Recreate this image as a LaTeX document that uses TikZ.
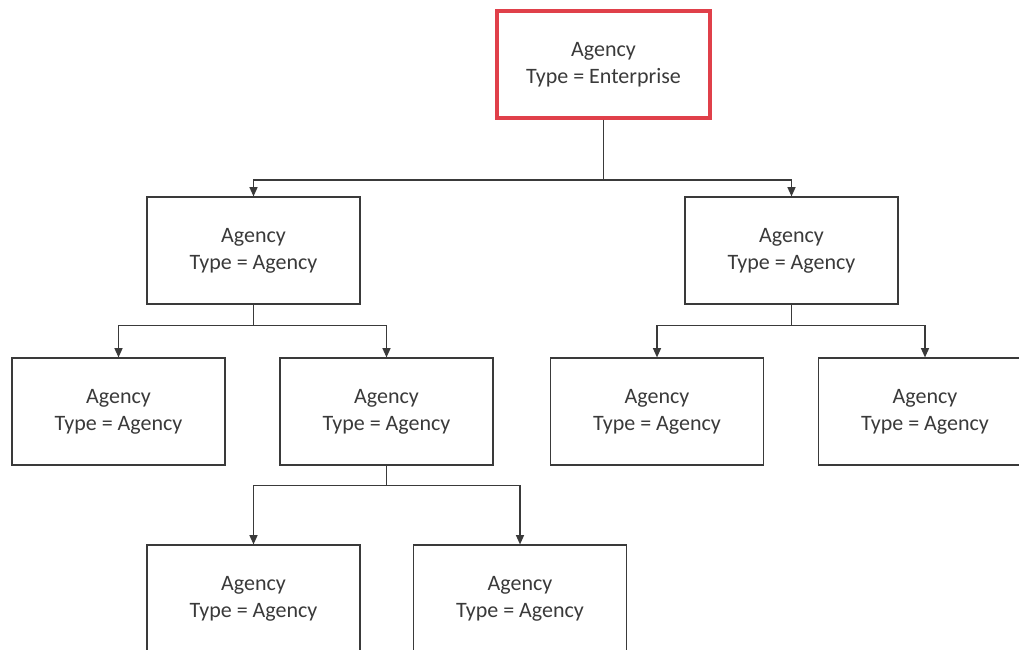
\documentclass[tikz,border=0pt]{standalone}
\usepackage{fontspec}
\setmainfont{Carlito}
\usepackage{tikz}
\usetikzlibrary{arrows.meta,positioning}
\definecolor{ink}{HTML}{3A3A3A}
\definecolor{alert}{HTML}{E0404A}

\begin{document}
\begin{tikzpicture}[x=0.75pt,y=-0.75pt]
    \tikzset{
      unit/.style={draw=ink,fill=white,line width=1.1pt,minimum width=160pt,minimum height=80pt,inner sep=0pt,align=center,text=ink,font=\fontsize{16.5}{20}\selectfont},
      root/.style={unit,draw=alert,line width=3pt},
      link/.style={-{Triangle[length=7pt,width=6pt]},draw=ink,line width=1.1pt}
    }
    \clip (0,0) rectangle (1019,649);
    \fill[white] (0,0) rectangle (1019,649);
    \node[root] (enterprise) at (603.5,64.5) {Agency\\Type = Enterprise};
    \node[unit] (agencyL) at (253.5,250.5) {Agency\\Type = Agency};
    \node[unit] (agencyR) at (791.5,250.5) {Agency\\Type = Agency};
    \node[unit] (agencyLL) at (118.5,411.5) {Agency\\Type = Agency};
    \node[unit] (agencyLR) at (386.5,411.5) {Agency\\Type = Agency};
    \node[unit] (agencyRL) at (657,411.5) {Agency\\Type = Agency};
    \node[unit] (agencyRR) at (925,411.5) {Agency\\Type = Agency};
    \node[unit] (agencyLRL) at (253.5,598.5) {Agency\\Type = Agency};
    \node[unit] (agencyLRR) at (520,598.5) {Agency\\Type = Agency};
    \draw[link] (enterprise.south) -- ++(0,60) -| (agencyL.north);
    \draw[link] (enterprise.south) -- ++(0,60) -| (agencyR.north);
    \draw[link] (agencyL.south) -- ++(0,21) -| (agencyLL.north);
    \draw[link] (agencyL.south) -- ++(0,21) -| (agencyLR.north);
    \draw[link] (agencyR.south) -- ++(0,21) -| (agencyRL.north);
    \draw[link] (agencyR.south) -- ++(0,21) -| (agencyRR.north);
    \draw[link] (agencyLR.south) -- ++(0,20) -| (agencyLRL.north);
    \draw[link] (agencyLR.south) -- ++(0,20) -| (agencyLRR.north);
  \end{tikzpicture}
\end{document}
